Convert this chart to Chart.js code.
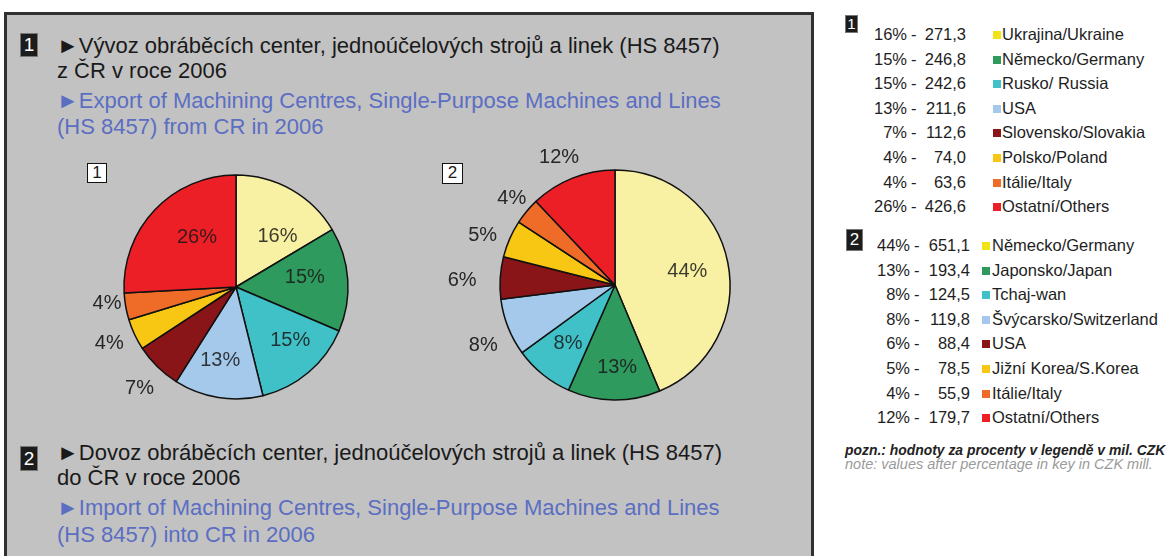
<!DOCTYPE html>
<html>
<head>
<meta charset="utf-8">
<script src="https://cdn.jsdelivr.net/npm/chart.js@4.4.0/dist/chart.umd.min.js"></script>
<style>
  body { margin: 0; width: 1167px; height: 556px; background: #fff; position: relative; overflow: hidden;
         font-family: "Liberation Sans", Arial, Helvetica, sans-serif; color: #1a1a1a; }
  .panel { position: absolute; left: 4px; top: 12px; width: 810px; height: 570px; background: #c2c2c2;
           border: 3px solid #303030; box-sizing: border-box; }
  .abs { position: absolute; white-space: nowrap; }
  .hd { font-size: 22px; line-height: 28px; }
  .blue { color: #5b6ec2; }
  .badge { position: absolute; background: #1c1c1c; color: #fff; border: 1px solid #777; box-sizing: border-box;
           text-align: center; }
  .box { position: absolute; background: #fff; border: 1.5px solid #111; box-sizing: border-box; text-align: center;
         font-size: 17px; line-height: 17px; }
  .leg { position: absolute; font-size: 16.5px; line-height: 24.6px; color: #1e1e1e; }
  .leg div { position: relative; height: 24.6px; }
  .leg span { position: absolute; top: 0; }
  .sw { display: inline-block; width: 8px; height: 8px; position: absolute; top: 9px; }
  .note { font-size: 13.9px; line-height: 14px; font-style: italic; }
  canvas { position: absolute; }
</style>
</head>
<body>
<div class="panel"></div>

<div class="badge" style="left:20px;top:33px;width:18px;height:24px;font-size:19px;line-height:22px;">1</div>
<div class="abs hd" style="left:57px;top:32px;">►Vývoz obráběcích center, jednoúčelových strojů a linek (HS 8457)</div>
<div class="abs hd" style="left:57px;top:57px;">z ČR v roce 2006</div>
<div class="abs hd blue" style="left:57px;top:87px;">►Export of Machining Centres, Single-Purpose Machines and Lines</div>
<div class="abs hd blue" style="left:57px;top:113px;">(HS 8457) from CR in 2006</div>

<div class="badge" style="left:20px;top:446px;width:18px;height:25px;font-size:19px;line-height:23px;">2</div>
<div class="abs hd" style="left:57px;top:439px;">►Dovoz obráběcích center, jednoúčelových strojů a linek (HS 8457)</div>
<div class="abs hd" style="left:57px;top:464px;">do ČR v roce 2006</div>
<div class="abs hd blue" style="left:57px;top:494px;">►Import of Machining Centres, Single-Purpose Machines and Lines</div>
<div class="abs hd blue" style="left:57px;top:521px;">(HS 8457) into CR in 2006</div>

<canvas id="pie1" width="340" height="300" style="left:66px;top:137px;"></canvas>
<canvas id="pie2" width="340" height="300" style="left:445px;top:135px;"></canvas>

<div class="box" style="left:87px;top:163px;width:20px;height:20px;">1</div>
<div class="box" style="left:442px;top:163px;width:21px;height:21px;">2</div>

<div class="badge" style="left:845px;top:15px;width:13px;height:18px;font-size:15px;line-height:16px;">1</div>
<div class="leg" id="leg1" style="left:840px;top:22px;width:327px;"></div>
<div class="badge" style="left:846px;top:229px;width:17px;height:22px;font-size:17px;line-height:20px;">2</div>
<div class="leg" id="leg2" style="left:840px;top:233px;width:327px;"></div>

<div class="abs note" style="left:845px;top:443px;font-weight:bold;color:#222;">pozn.: hodnoty za procenty v legendě v mil. CZK</div>
<div class="abs note" style="left:845px;top:457px;font-size:14.5px;color:#9a9a9a;">note: values after percentage in key in CZK mill.</div>

<script>
// export 2006 (mil. CZK)
const exportCountries = ['Ukrajina/Ukraine', 'Německo/Germany', 'Rusko/ Russia', 'USA', 'Slovensko/Slovakia', 'Polsko/Poland', 'Itálie/Italy', 'Ostatní/Others'];
const exportValues = [271.3, 246.8, 242.6, 211.6, 112.6, 74.0, 63.6, 426.6];

// import 2006 (mil. CZK)
const importCountries = ['Německo/Germany', 'Japonsko/Japan', 'Tchaj-wan', 'Švýcarsko/Switzerland', 'USA', 'Jižní Korea/S.Korea', 'Itálie/Italy', 'Ostatní/Others'];
const importValues = [651.1, 193.4, 124.5, 119.8, 88.4, 78.5, 55.9, 179.7];

const pieColors = ['#f8f1a3', '#2f9a5e', '#40c1c7', '#a4c9ea', '#8a1518', '#f8c714', '#ef6b28', '#ec1f27'];
const swatchColors = ['#f2e21a', '#2f9a5e', '#40c1c7', '#a4c9ea', '#8a1518', '#f8c714', '#ef6b28', '#ec1f27'];

const pct = (vals) => {
    const total = vals.reduce((a, b) => a + b, 0);
    return vals.map(v => Math.round(v / total * 100));
};

const pctLabels = {
    id: 'pctLabels',
    afterDatasetsDraw(chart, args, opts) {
        const ctx = chart.ctx;
        const arcs = chart.getDatasetMeta(0).data;
        const p = pct(chart.data.datasets[0].data);
        ctx.save();
        ctx.font = '20px "Liberation Sans", Arial, sans-serif';
        ctx.textAlign = 'center';
        ctx.textBaseline = 'middle';
        arcs.forEach((arc, i) => {
            const a = arc.getProps(['x', 'y', 'startAngle', 'endAngle', 'outerRadius'], true);
            const ang = (a.startAngle + a.endAngle) / 2 + opts.shift[i] * Math.PI / 180;
            const r = a.outerRadius * opts.dist[i];
            ctx.fillStyle = opts.dist[i] > 1 ? '#262626' : 'rgba(25,25,25,0.85)';
            ctx.fillText(p[i] + '%', a.x + Math.cos(ang) * r, a.y + Math.sin(ang) * r);
        });
        ctx.restore();
    }
};

function makePie(id, labels, values, radius, dist, shift) {
    new Chart(document.getElementById(id), {
        type: 'pie',
        data: {
            labels: labels,
            datasets: [{
                data: values,
                backgroundColor: pieColors,
                borderColor: '#111',
                borderWidth: 1.5,
                radius: radius,
                hoverOffset: 0
            }]
        },
        options: {
            responsive: false,
            animation: false,
            events: [],
            layout: { padding: 0 },
            plugins: {
                legend: { display: false },
                tooltip: { enabled: false },
                pctLabels: { dist: dist, shift: shift }
            }
        },
        plugins: [pctLabels]
    });
}

makePie('pie1', exportCountries, exportValues, 112,
    [0.58, 0.62, 0.68, 0.67, 1.25, 1.24, 1.16, 0.56],
    [10, -4, -5, 3, -1, 1, 3, 8]);
makePie('pie2', importCountries, importValues, 115,
    [0.64, 0.72, 0.65, 1.26, 1.33, 1.23, 1.17, 1.21],
    [1, -2, 0, -3, -2, -3, 0, -2]);

function buildLegend(elId, names, values, cols) {
    const el = document.getElementById(elId);
    const p = pct(values);
    names.forEach((n, i) => {
        const row = document.createElement('div');
        row.innerHTML =
            '<span style="right:' + (327 - cols[0]) + 'px">' + p[i] + '%</span>' +
            '<span style="left:' + cols[1] + 'px">-</span>' +
            '<span style="right:' + (327 - cols[2]) + 'px">' + values[i].toFixed(1).replace('.', ',') + '</span>' +
            '<i class="sw" style="left:' + cols[3] + 'px;background:' + swatchColors[i] + '"></i>' +
            '<span style="left:' + cols[4] + 'px">' + n + '</span>';
        el.appendChild(row);
    });
}

buildLegend('leg1', exportCountries, exportValues, [67, 71, 126, 153, 162]);
buildLegend('leg2', importCountries, importValues, [70, 74, 130, 142, 152]);
</script>
</body>
</html>
